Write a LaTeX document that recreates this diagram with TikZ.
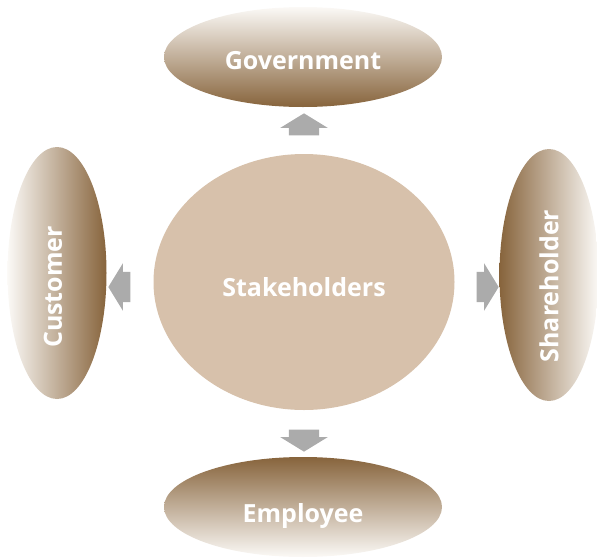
\documentclass[tikz,border=0pt]{standalone}
\usepackage{fontspec}
\setmainfont{Open Sans}
\usetikzlibrary{shapes.geometric,shapes.arrows}

\definecolor{barkbrown}{RGB}{135,100,60}
\definecolor{palecream}{RGB}{251,249,246}
\definecolor{sandtan}{RGB}{215,193,171}
\definecolor{arrowgray}{RGB}{171,171,171}

\begin{document}
\begin{tikzpicture}[x=1pt, y=-1pt]
    \tikzset{
      tag/.style={text=white, inner sep=0pt, text depth=0pt, font=\bfseries\fontsize{25}{30}\selectfont},
      party/.style={ellipse, inner sep=0pt},
      flatparty/.style={party, minimum width=278pt, minimum height=100pt},
      tallparty/.style={party, minimum width=99pt, minimum height=252pt},
      blockarrow/.style={single arrow, fill=arrowgray, inner xsep=0pt, inner ysep=15pt,
        minimum height=22pt, single arrow head extend=8.5pt,
        single arrow tip angle=117, single arrow head indent=0pt}
    }
  % page frame
  \useasboundingbox (0,0) rectangle (597,557);

  % centre
  \node[party, fill=sandtan, minimum width=301pt, minimum height=256pt,
    label={[tag, yshift=-4.5pt]center:Stakeholders}] (stake) at (304,282) {};

  % the four parties
  \node[flatparty, top color=palecream, bottom color=barkbrown,
    label={[tag, yshift=-3.5pt]center:Government}] (gov) at (303,57) {};
  \node[flatparty, top color=barkbrown, bottom color=palecream,
    label={[tag, yshift=-5.5pt]center:Employee}] (emp) at (303,507) {};
  \node[tallparty, left color=palecream, right color=barkbrown,
    label={[tag, yshift=-14pt, xshift=-4pt]center:\rotatebox{90}{Customer}}] (cust) at (57,273) {};
  \node[tallparty, left color=barkbrown, right color=palecream,
    label={[tag, yshift=-11pt]center:\rotatebox{90}{Shareholder}}] (share) at (549,275) {};

  % block arrows
  \node[blockarrow, rotate=90]  (toGov)   at (304,129) {};
  \node[blockarrow, rotate=270] (toEmp)   at (304,436) {};
  \node[blockarrow, rotate=180] (toCust)  at (124,287) {};
  \node[blockarrow]             (toShare) at (483,287) {};
\end{tikzpicture}
\end{document}
